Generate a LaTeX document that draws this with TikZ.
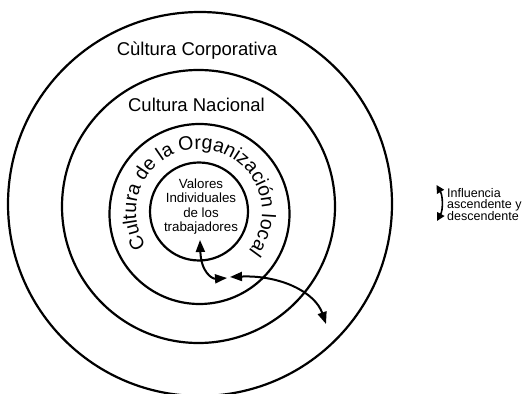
\documentclass[tikz,border=0pt]{standalone}
\usepackage{fontspec}
\setmainfont{Liberation Sans}
\usetikzlibrary{arrows.meta,decorations.text}
\begin{document}
\begin{tikzpicture}[x=1pt,y=1pt,
  ring/.style={draw, circle, line width=2.2pt, inner sep=0pt},
  lbl/.style={inner sep=0pt, font=\fontsize{18.5}{20}\selectfont},
  flow/.style={line width=2pt, {Triangle[length=12pt,width=9pt]}-{Triangle[length=12pt,width=9pt]}},
  legarrow/.style={line width=1.6pt, {Triangle[length=8pt,width=8pt]}-{Triangle[length=8pt,width=8pt]}}]
\clip (0,0) rectangle (526,393);
\node[ring, minimum size=384pt] (outer) at (200,189) {};
\node[ring, minimum size=273pt] (nacional) at (198.5,186.5) {};
\node[ring, minimum size=180pt] (local) at (199.5,179) {};
\node[ring, minimum size=98pt] (inner) at (199,181.5) {};
\node[lbl, anchor=base] (corp) at (197,337) {Cùltura Corporativa};
\node[lbl, anchor=base] (nac) at (196.5,281.5) {Cultura Nacional};
\coordinate (ctext) at (199,181);
\path[decorate, decoration={text along path, text align=center,
  text={|\fontsize{19.5}{19.5}\selectfont|Cultura de la Organización local}}]
  (ctext) ++(237.5:63) arc[start angle=237.5, end angle=-62.5, radius=63];
\node[anchor=north, align=center, inner sep=0pt, font=\fontsize{13.3}{14.5}\selectfont] (valores) at (201,214.7) {Valores\\Individuales\\de los\\trabajadores};
\coordinate (a1) at (200,153);
\coordinate (a2) at (227,115);
\draw[flow] (a1) .. controls (201,121) and (212,114) .. (a2);
\coordinate (b1) at (230,116);
\coordinate (b2) at (326,69);
\draw[flow] (b1) .. controls (280,118) and (315,101) .. (b2);
\coordinate (l1) at (436.5,208);
\coordinate (l2) at (437,172);
\draw[legarrow] (l1) .. controls (443,197) and (443,183) .. (l2);
\node[anchor=north west, align=left, inner sep=0pt, font=\fontsize{12.5}{11.7}\selectfont] (legend) at (447,205) {Influencia\\ascendente y\\descendente};
\end{tikzpicture}
\end{document}
